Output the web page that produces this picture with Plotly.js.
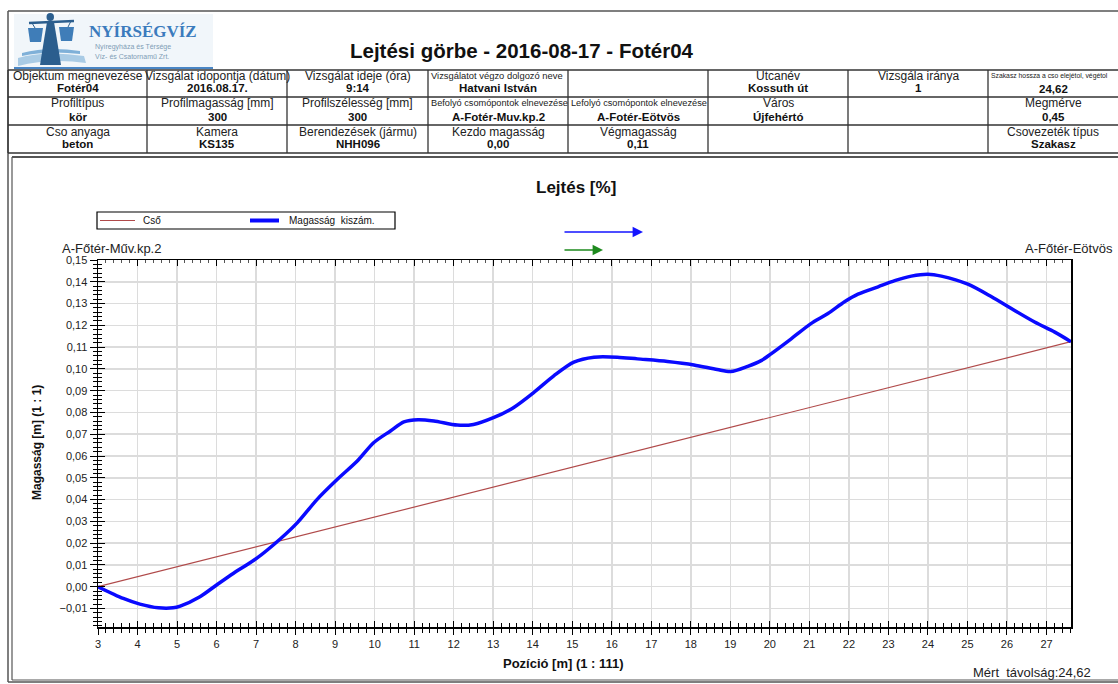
<!DOCTYPE html>
<html>
<head>
<meta charset="utf-8">
<script src="https://cdn.plot.ly/plotly-3.0.1.min.js"></script>
<style>
html,body{margin:0;padding:0;background:#fff;}
#chart{width:1118px;height:684px;}
</style>
</head>
<body>
<div id="chart"></div>
<script>
// ---------- data ----------
const positionM = [3, 3.64, 4.06, 4.53, 4.9, 5.08, 5.58, 6.0, 6.43, 7.02, 7.61, 8.04, 8.54, 9.05, 9.56, 9.98, 10.4, 10.74, 11.1, 11.5, 12.09, 12.5, 13.02, 13.52, 14.03, 14.54, 15.04, 15.55, 16.14, 16.65, 17.41, 18.08, 18.67, 19.01, 19.44, 19.78, 20.03, 20.54, 21.04, 21.47, 21.89, 22.23, 22.74, 23.16, 23.58, 24.0, 24.34, 25.01, 25.61, 26.11, 26.7, 27.21, 27.62];
const heightM = [0, -0.0054, -0.008, -0.0097, -0.0097, -0.0089, -0.0046, 0.0008, 0.0062, 0.0131, 0.0219, 0.0293, 0.040, 0.0492, 0.0577, 0.0662, 0.0715, 0.0757, 0.0767, 0.0761, 0.0742, 0.0745, 0.0777, 0.0823, 0.0892, 0.0969, 0.1031, 0.1054, 0.1054, 0.1046, 0.1034, 0.1018, 0.0997, 0.0988, 0.1012, 0.1038, 0.1069, 0.1138, 0.1208, 0.1254, 0.1308, 0.1343, 0.1377, 0.1405, 0.1426, 0.1435, 0.1426, 0.1389, 0.1331, 0.1277, 0.1215, 0.1169, 0.1125];
const pipeX = [3, 27.62];
const pipeY = [0, 0.1125];
const seriesNames = ["Cső", "Magasság  kiszám."];
const seriesColors = ["#b04a4a", "#0a0aff"];

const pageTitle = "Lejtési görbe - 2016-08-17 - Fotér04";
const chartTitle = "Lejtés [%]";
const xTitle = "Pozíció [m] (1 : 111)";
const yTitle = "Magasság [m] (1 : 1)";
const startNode = "A-Főtér-Műv.kp.2";
const endNode = "A-Főtér-Eötvös";
const measured = "Mért  távolság:24,62";

const rowLabels = [
  ["Objektum megnevezése", "Vizsgálat idopontja (dátum)", "Vizsgálat ideje (óra)", "Vizsgálatot végzo dolgozó neve", "", "Utcanév", "Vizsgála iránya", "Szakasz hossza a cso elejétol, végétol"],
  ["Profiltípus", "Profilmagasság [mm]", "Profilszélesség [mm]", "Befolyó csomópontok elnevezése", "Lefolyó csomópontok elnevezése", "Város", "", "Megmérve"],
  ["Cso anyaga", "Kamera", "Berendezések (jármu)", "Kezdo magasság", "Végmagasság", "", "", "Csovezeték típus"]
];
const rowValues = [
  ["Fotér04", "2016.08.17.", "9:14", "Hatvani István", "", "Kossuth út", "1", "24,62"],
  ["kör", "300", "300", "A-Fotér-Muv.kp.2", "A-Fotér-Eötvös", "Újfehértó", "", "0,45"],
  ["beton", "KS135", "NHH096", "0,00", "0,11", "", "", "Szakasz"]
];

// ---------- layout helpers (pixel -> paper) ----------
const W = 1118, H = 684;
const PL = 98, PR = 1071, PT = 260, PB = 627;
const px = x => (x - PL) / (PR - PL);
const py = y => (PB - y) / (PB - PT);
const FONT = "Liberation Sans, Arial, sans-serif";

const shapes = [];
const annotations = [];
function line(x0, y0, x1, y1, color, width) {
  shapes.push({type: "line", xref: "paper", yref: "paper", x0: px(x0), y0: py(y0), x1: px(x1), y1: py(y1), line: {color: color, width: width}});
}
function rect(x0, y0, x1, y1, fill, lc, lw) {
  shapes.push({type: "rect", xref: "paper", yref: "paper", x0: px(x0), y0: py(y0), x1: px(x1), y1: py(y1), fillcolor: fill, line: {color: lc || fill, width: lw || 0}});
}
function text(x, y, t, size, opts) {
  opts = opts || {};
  annotations.push({xref: "paper", yref: "paper", x: px(x), y: py(y), text: t, showarrow: false,
    xanchor: opts.xa || "center", yanchor: "middle", textangle: opts.angle || 0,
    font: {family: opts.family || FONT, size: size, color: opts.color || "#111", weight: opts.bold ? "bold" : "normal"}});
}

// ---------- page frame ----------
line(8, 11, 1130, 11, "#555", 1.5);
line(8, 11, 8, 682, "#555", 1.5);
line(8, 682, 1130, 682, "#555", 1.5);
line(12, 157, 1130, 157, "#555", 2);
line(12, 157, 12, 680, "#555", 1.2);
line(12, 680, 1130, 680, "#555", 1.2);

// ---------- logo ----------
rect(14, 14, 213, 68, "#f1f6fa");
line(14, 68, 213, 68, "#4a86c5", 2);
shapes.push({type: "path", xref: "paper", yref: "paper", fillcolor: "#a9cbe5", line: {width: 0},
  path: `M ${px(18)} ${py(58)} Q ${px(45)} ${py(50)} ${px(84)} ${py(56)} L ${px(86)} ${py(63)} Q ${px(50)} ${py(58)} ${px(18)} ${py(66)} Z`});
shapes.push({type: "path", xref: "paper", yref: "paper", fillcolor: "#7fb0d8", line: {width: 0},
  path: `M ${px(22)} ${py(53)} Q ${px(48)} ${py(46)} ${px(80)} ${py(51)} L ${px(80)} ${py(54)} Q ${px(48)} ${py(50)} ${px(22)} ${py(56)} Z`});
shapes.push({type: "path", xref: "paper", yref: "paper", fillcolor: "#2b5e8e", line: {width: 0},
  path: `M ${px(47)} ${py(22)} L ${px(54)} ${py(22)} L ${px(57)} ${py(40)} L ${px(61)} ${py(65)} L ${px(40)} ${py(65)} L ${px(44)} ${py(40)} Z`});
shapes.push({type: "circle", xref: "paper", yref: "paper", x0: px(46.5), y0: py(21), x1: px(54), y1: py(13), fillcolor: "#2b5e8e", line: {width: 0}});
line(29, 23, 74, 21, "#2b5e8e", 2.5);
line(32, 23, 35, 28, "#2b5e8e", 1);
line(71, 21, 68, 27, "#2b5e8e", 1);
shapes.push({type: "path", xref: "paper", yref: "paper", fillcolor: "#3f7db8", line: {width: 0},
  path: `M ${px(28)} ${py(28)} L ${px(43)} ${py(28)} L ${px(41)} ${py(42)} L ${px(30)} ${py(42)} Z`});
shapes.push({type: "path", xref: "paper", yref: "paper", fillcolor: "#3f7db8", line: {width: 0},
  path: `M ${px(59)} ${py(27)} L ${px(74)} ${py(27)} L ${px(72)} ${py(41)} L ${px(61)} ${py(41)} Z`});
text(87, 31, "NYÍRSÉGVÍZ", 17, {xa: "left", bold: true, color: "#3b7bbd", family: "Liberation Serif, DejaVu Serif, serif"});
text(93, 47, "Nyíregyháza és Térsége", 7, {xa: "left", color: "#7f9db6"});
text(93, 57, "Víz- és Csatornamű Zrt.", 7, {xa: "left", color: "#7f9db6"});

// ---------- page title ----------
text(522, 50, pageTitle, 20.5, {bold: true, color: "#111"});

// ---------- header table ----------
const colEdges = [8, 147, 287, 428, 568, 708, 848, 988, 1130];
const rowEdges = [70, 97, 125, 153];
rowEdges.forEach(y => line(8, y, 1130, y, "#333", 1.3));
colEdges.slice(0, 8).forEach(x => line(x, 70, x, 153, "#333", 1.3));
const labelY = [76, 103, 132];
const valueY = [88, 117, 144];
for (let r = 0; r < 3; r++) {
  for (let c = 0; c < 8; c++) {
    let cx = (colEdges[c] + colEdges[c + 1]) / 2;
    if (c === 7) cx = 1053;
    const lab = rowLabels[r][c];
    if (lab) {
      if (lab.length > 28 && c >= 3) {
        const small = c === 7 ? 6.8 : (r === 0 ? 9.4 : 9.2);
        text(colEdges[c] + 1, labelY[r], lab, small, {xa: "left", color: "#222"});
      } else {
        text(cx, labelY[r], lab, 12, {color: "#222"});
      }
    }
    const val = rowValues[r][c];
    if (val) text(cx, valueY[r] + (r === 0 && c === 7 ? 1 : 0), val, 11.5, {bold: true, color: "#111"});
  }
}

// ---------- chart texts ----------
text(576, 187, chartTitle, 17, {bold: true});
text(60, 248, startNode, 13, {xa: "left", color: "#222"});
text(1115, 248, endNode, 13, {xa: "right", color: "#222"});
text(563, 663, xTitle, 13, {bold: true});
text(37, 443, yTitle, 12, {bold: true, angle: -90});
text(1093, 672, measured, 13, {xa: "right", color: "#222"});

// legend (drawn to match the original box)
rect(97, 212, 395, 229, "#fff", "#000", 1.2);
line(100, 220.5, 135, 220.5, seriesColors[0], 1.2);
text(141, 220.5, seriesNames[0], 10, {xa: "left"});
line(250, 220.5, 279, 220.5, seriesColors[1], 4);
text(287, 220.5, seriesNames[1], 10, {xa: "left"});

// direction arrows
annotations.push({xref: "paper", yref: "paper", x: px(643), y: py(232), ax: -80, ay: 0, text: "", showarrow: true,
  arrowhead: 2, arrowsize: 1.6, arrowwidth: 1.3, arrowcolor: "#1414ff"});
annotations.push({xref: "paper", yref: "paper", x: px(603), y: py(250), ax: -40, ay: 0, text: "", showarrow: true,
  arrowhead: 2, arrowsize: 1.6, arrowwidth: 1.3, arrowcolor: "#1e8a1e"});

// ---------- traces ----------
const traces = [
  {x: pipeX, y: pipeY, type: "scatter", mode: "lines", name: seriesNames[0],
   line: {color: seriesColors[0], width: 1.2}},
  {x: positionM, y: heightM, type: "scatter", mode: "lines", name: seriesNames[1],
   line: {color: seriesColors[1], width: 3.5, shape: "spline", smoothing: 0.8}},
  // empty traces so the overlay tick axes are drawn
  {x: [], y: [], type: "scatter", mode: "lines", xaxis: "x2", yaxis: "y2", showlegend: false, hoverinfo: "skip"},
  {x: [], y: [], type: "scatter", mode: "lines", xaxis: "x3", yaxis: "y2", showlegend: false, hoverinfo: "skip"}
];

const xr = [3, 27.62], yr = [-0.0185, 0.15];
const layout = {
  width: W, height: H,
  margin: {l: PL, r: W - PR, t: PT, b: H - PB, pad: 0},
  paper_bgcolor: "#fff", plot_bgcolor: "#fff",
  separators: ", ",
  font: {family: FONT, size: 11, color: "#222"},
  showlegend: false,
  xaxis: {range: xr, tick0: 3, dtick: 1, showgrid: true, gridcolor: "#dcdcdc", gridwidth: 1.5,
    zeroline: false, showline: true, linecolor: "#000", linewidth: 1.5, mirror: false,
    ticks: "outside", ticklen: 6, tickcolor: "#000", tickwidth: 1,
    minor: {dtick: 0.2, tick0: 3, ticks: "outside", ticklen: 4, tickcolor: "#000", showgrid: false},
    tickfont: {size: 11, color: "#222"}, fixedrange: true},
  xaxis2: {overlaying: "x", anchor: "y2", side: "bottom", range: xr, tick0: 3, dtick: 1,
    showgrid: false, zeroline: false, showticklabels: false, showline: false, ticks: "inside", ticklen: 6, tickcolor: "#000",
    minor: {dtick: 0.2, tick0: 3, ticks: "inside", ticklen: 4, tickcolor: "#000", showgrid: false}},
  xaxis3: {overlaying: "x", anchor: "y2", side: "top", range: xr, tick0: 3, dtick: 1,
    showgrid: false, zeroline: false, showticklabels: false, showline: true, linecolor: "#000", linewidth: 1.5,
    ticks: "inside", ticklen: 6, tickcolor: "#000",
    minor: {dtick: 0.2, tick0: 3, ticks: "inside", ticklen: 3, tickcolor: "#555", showgrid: false}},
  yaxis: {range: yr, tick0: 0, dtick: 0.01, tickformat: ".2f", showgrid: true, gridcolor: "#dcdcdc", gridwidth: 1.5,
    zeroline: false, showline: true, linecolor: "#000", linewidth: 1.5, mirror: true,
    ticks: "outside", ticklen: 7, tickcolor: "#000",
    minor: {dtick: 0.002, tick0: 0, ticks: "outside", ticklen: 4, tickcolor: "#000", showgrid: false},
    tickfont: {size: 11, color: "#222"}, fixedrange: true},
  yaxis2: {overlaying: "y", anchor: "x2", side: "left", range: yr, tick0: 0, dtick: 0.01,
    showgrid: false, zeroline: false, showticklabels: false, showline: false, ticks: "inside", ticklen: 7, tickcolor: "#000",
    minor: {dtick: 0.002, tick0: 0, ticks: "inside", ticklen: 4, tickcolor: "#000", showgrid: false}},
  shapes: shapes,
  annotations: annotations
};

Plotly.newPlot("chart", traces, layout, {displayModeBar: false, staticPlot: true});
</script>
</body>
</html>
